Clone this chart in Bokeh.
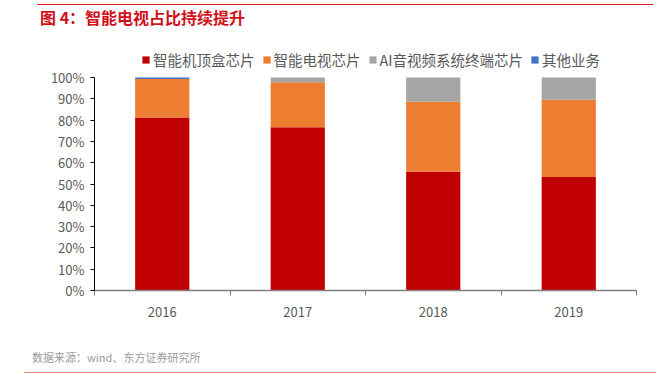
from bokeh.plotting import figure
from bokeh.models import (ColumnDataSource, Range1d, FixedTicker, NumeralTickFormatter,
                          Legend, LegendItem, Div)
from bokeh.layouts import column
from bokeh.embed import file_html
from bokeh.resources import INLINE

years = ["2016", "2017", "2018", "2019"]
stb = [0.812, 0.766, 0.557, 0.533]
tv = [0.181, 0.212, 0.329, 0.362]
ai = [0.000, 0.022, 0.114, 0.105]
other = [0.007, 0.000, 0.000, 0.000]
series_names = ["智能机顶盒芯片", "智能电视芯片", "AI音视频系统终端芯片", "其他业务"]
colors = ["#C00000", "#ED7D31", "#A5A5A5", "#4472C4"]
title_text = "图 4：智能电视占比持续提升"
source_text = "数据来源：wind、东方证券研究所"

W = 656
FONT = "Noto Sans CJK SC"

xs = [i + 0.5 for i in range(len(years))]
src = ColumnDataSource(dict(x=xs, stb=stb, tv=tv, ai=ai, other=other))

header = Div(text=(f'<div style="margin-left:37px;margin-top:4px;border-top:1.5px solid #E0201A;'
                   f'padding-top:2px;padding-left:3px;color:#D0101A;font-weight:bold;'
                   f"font-size:16px;line-height:20px;font-family:'{FONT}';width:616px\">"
                   f'{title_text}</div>'),
             width=W, height=30, margin=0)

# frame spans page y 45..290; 0..1 occupies the lower 213 px
p = figure(width=W, height=315, output_backend="svg", toolbar_location=None,
           x_range=Range1d(0, 4), y_range=Range1d(0, 245 / 213),
           min_border_left=94, min_border_right=20, min_border_top=15, min_border_bottom=55,
           margin=0)
p.outline_line_color = None
p.xgrid.grid_line_color = None
p.ygrid.grid_line_color = None

renderers = p.vbar_stack(["stb", "tv", "ai", "other"], x="x", width=0.4, source=src,
                         color=colors, line_color=None)

legend = Legend(items=[LegendItem(label=n, renderers=[r]) for n, r in zip(series_names, renderers)],
                orientation="horizontal", location=(47, 220),
                label_text_font=FONT, label_text_font_size="14.5px", label_text_color="#595959",
                glyph_width=9, glyph_height=9, spacing=7, label_standoff=3,
                padding=0, margin=0, background_fill_alpha=0, border_line_color=None)
p.add_layout(legend, "center")

# x axis
p.xaxis.ticker = FixedTicker(ticks=xs, minor_ticks=[0, 1, 2, 3, 4])
p.xaxis.major_label_overrides = {x: y for x, y in zip(xs, years)}
p.xaxis.major_tick_line_color = None
p.xaxis.minor_tick_line_color = "#7f7f7f"
p.xaxis.minor_tick_out = 5
p.xaxis.minor_tick_in = 0
p.xaxis.axis_line_color = "#7f7f7f"
p.xaxis.axis_line_width = 1.5
p.xaxis.major_label_text_font = FONT
p.xaxis.major_label_text_font_size = "13px"
p.xaxis.major_label_text_color = "#595959"
p.xaxis.major_label_standoff = 10

# y axis
p.yaxis.ticker = FixedTicker(ticks=[i / 10 for i in range(11)])
p.yaxis.bounds = (0, 1)
p.yaxis.formatter = NumeralTickFormatter(format="0%")
p.yaxis.minor_tick_line_color = None
p.yaxis.major_tick_out = 4
p.yaxis.major_tick_in = 0
p.yaxis.axis_line_color = "#000000"
p.yaxis.major_tick_line_color = "#000000"
p.yaxis.major_label_text_font = FONT
p.yaxis.major_label_text_font_size = "13px"
p.yaxis.major_label_text_color = "#595959"
p.yaxis.major_label_standoff = 6

footer = Div(text=(f'<div style="padding-left:32px;margin-top:5px;color:#9a9a9a;font-size:11px;'
                   f"line-height:14px;font-family:'{FONT}'\">{source_text}</div>"
                   f'<div style="margin-left:24px;margin-top:8px;border-top:1.5px solid #E88080;width:632px"></div>'),
             width=W, height=45, margin=0)

layout = column(header, p, footer, spacing=0, margin=0)
open("out.html", "w").write(file_html(layout, INLINE))
